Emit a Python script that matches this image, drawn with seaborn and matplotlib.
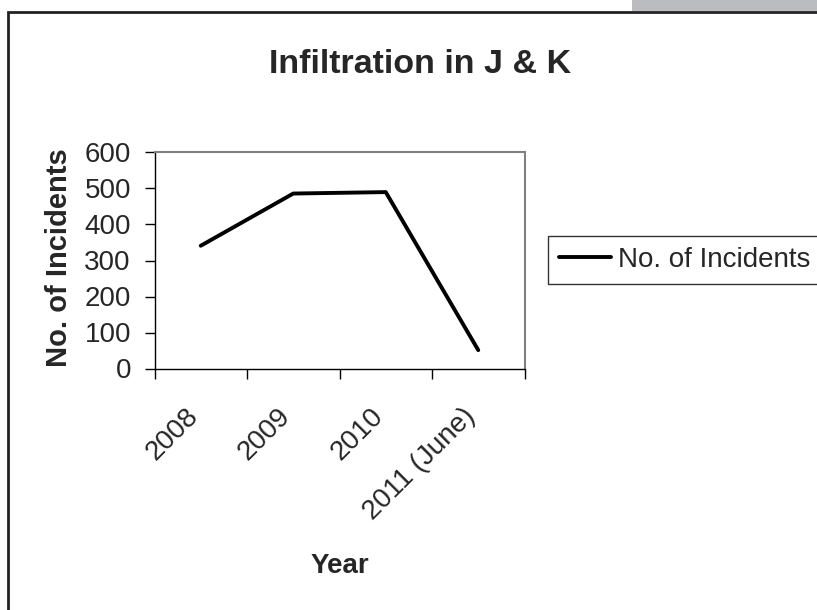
import pandas as pd
import seaborn as sns
import matplotlib.pyplot as plt
from matplotlib.patches import Rectangle
from matplotlib.transforms import ScaledTranslation

# data
years = ['2008', '2009', '2010', '2011 (June)']
incidents = [341, 486, 490, 51]

sns.set_style('white')
plt.rcParams['font.family'] = ['Liberation Sans', 'DejaVu Sans']

W, H = 817, 610
fig = plt.figure(figsize=(W / 100, H / 100), dpi=100)
ax = fig.add_axes([154.5 / W, 1 - 368.5 / H, 370 / W, 216 / H])

df = pd.DataFrame({'Year': years, 'No. of Incidents': incidents})
sns.lineplot(data=df, x='Year', y='No. of Incidents', color='black',
             linewidth=2.8, label='No. of Incidents', ax=ax)

ax.set_xlim(-0.5, 3.5)
ax.set_ylim(0, 600)
ax.set_yticks(range(0, 601, 100))
ax.set_xticks([-0.5, 0.5, 1.5, 2.5, 3.5], minor=True)
ax.tick_params(axis='x', which='major', length=0, pad=25, labelsize=20)
ax.tick_params(axis='x', which='minor', bottom=True, length=7, width=1,
               direction='out', color='black')
ax.tick_params(axis='y', left=True, length=7, width=1, direction='out',
               color='black', labelsize=20, pad=10)
shift = ScaledTranslation(-16 / 100, 0, fig.dpi_scale_trans)
for lbl in ax.get_xticklabels():
    lbl.set_rotation(45)
    lbl.set_ha('right')
    lbl.set_rotation_mode('anchor')
    lbl.set_transform(lbl.get_transform() + shift)

for side in ['left', 'bottom']:
    ax.spines[side].set_color('black')
    ax.spines[side].set_linewidth(1)
for side in ['top', 'right']:
    ax.spines[side].set_color('#808080')
    ax.spines[side].set_linewidth(1.5)

ax.set_xlabel('')
ax.set_ylabel('')
fig.text(67 / W, 1 - 257.5 / H, 'No. of Incidents', rotation=90, ha='center',
         va='baseline', rotation_mode='anchor', fontsize=21, fontweight='bold')
fig.text(340 / W, 1 - 573 / H, 'Year', ha='center', va='baseline',
         fontsize=20, fontweight='bold')
fig.text(420 / W, 1 - 73.3 / H, 'Infiltration in J & K', ha='center',
         va='baseline', fontsize=24.5, fontweight='bold')

leg = ax.legend(loc='center left', bbox_to_anchor=(548 / W, 1 - 260 / H),
                bbox_transform=fig.transFigure, frameon=True, fancybox=False,
                fontsize=20, handlelength=1.87, handletextpad=0.25,
                borderpad=0.4, borderaxespad=0)
leg.get_frame().set_edgecolor('black')
leg.get_frame().set_linewidth(1)

# chart border and grey strip at the top right
fig.add_artist(Rectangle((8 / W, -0.1), 2, 1.1 - 12.5 / H, transform=fig.transFigure,
                         fill=False, edgecolor='#222222', linewidth=2))
fig.add_artist(Rectangle((632 / W, 1 - 11 / H), 1, 11 / H, transform=fig.transFigure,
                         facecolor='#bbbcc0', edgecolor='none'))

fig.savefig('out.png', dpi=100)
